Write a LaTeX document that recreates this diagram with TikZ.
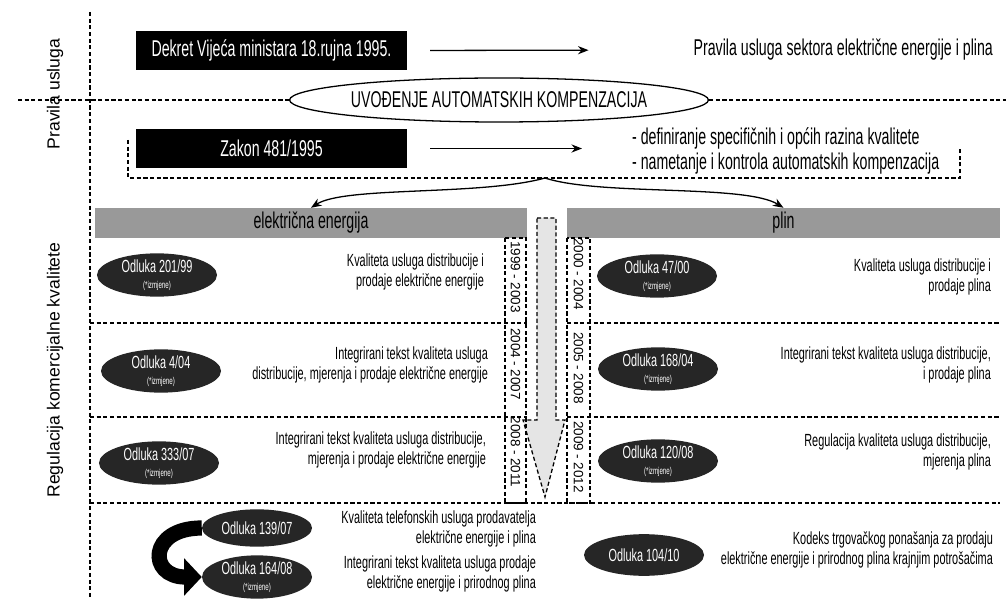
\documentclass[tikz,border=0pt]{standalone}
\usepackage{fontspec}
\setmainfont[FakeStretch=0.62]{Liberation Sans}
\newfontfamily\rotfont{Liberation Sans}
\usetikzlibrary{shapes.geometric, arrows.meta, positioning, calc}

\newcommand{\velik}{\fontsize{19.5}{21}\selectfont}
\newcommand{\mali}{\fontsize{15}{16.5}\selectfont}
\newcommand{\sitno}{\fontsize{8.5}{9}\selectfont}

\begin{document}
\begin{tikzpicture}[x=0.03cm, y=-0.03cm,
    crta/.style={dash pattern=on 3.5pt off 2.2pt, line width=1.1pt},
    crnibox/.style={fill=black, text=white, minimum width=8.13cm, minimum height=1.17cm, font=\velik},
    traka/.style={fill=black!40, minimum height=0.9cm, inner sep=0, font=\velik},
    odluka/.style={ellipse, fill=black!85, text=white, minimum width=3.6cm, minimum height=1.25cm, inner sep=0, align=center, font=\mali},
    opis/.style={anchor=east, align=right, font=\mali},
    godina/.style={rotate=-90, font=\rotfont\fontsize{11.5}{12}\selectfont},
    strelica/.style={-{Stealth[length=9pt,width=7pt]}, line width=1.1pt}]

    \useasboundingbox (0,0) rectangle (1006,599);

    % --- okvir i oznake lijevo ---
    \draw[crta] (90,12) -- (90,599);
    \node[rotate=90, font=\rotfont\fontsize{15}{17}\selectfont] (pravila) at (55,94) {Pravila usluga};
    \node[rotate=90, font=\rotfont\fontsize{15}{17}\selectfont] (regulacija) at (55,370) {Regulacija komercijalne kvalitete};

    % --- Pravila usluga (gore) ---
    \node[crnibox] (dekret) at (271.5,50.5) {Dekret Vije\'ca ministara 18.rujna 1995.};
    \node[anchor=east, font=\velik] (sektor) at (997,50) {Pravila usluga sektora elektri\v{c}ne energije i plina};
    \draw[strelica, shorten <=0.69cm, shorten >=3.03cm] (dekret.east) -- (sektor.west);

    \node[ellipse, draw, line width=1.1pt, minimum width=10.29cm, minimum height=1.32cm, inner sep=0, font=\velik] (uvod) at (499,100) {UVO\DJ ENJE AUTOMATSKIH KOMPENZACIJA};
    \draw[crta] (18,100) -- (uvod.west);
    \draw[crta] (uvod.east) -- (1006,100);

    \node[crnibox] (zakon) at (271.5,148.5) {Zakon 481/1995};
    \node[anchor=west, align=left, font=\velik] (ciljevi) at (628,151) {- definiranje specifi\v{c}nih i op\'cih razina kvalitete\\- nametanje i kontrola automatskih kompenzacija};
    \draw[strelica, shorten <=0.69cm, shorten >=1.38cm] (zakon.east) -- (zakon.east -| ciljevi.west);
    \draw[crta] (128,140) -- (128,178) -- (960,178) -- (960,147);
    \coordinate (split) at (545,178);

    % --- trake ---
    \node[traka, minimum width=12.96cm] (elbar) at (311,223) {elektri\v{c}na energija};
    \node[traka, minimum width=12.99cm] (plinbar) at (783.5,223) {plin};
    \draw[strelica] (split) .. controls (480,196) and (345,186) .. (elbar.north);
    \draw[strelica] (split) .. controls (600,196) and (745,184) .. (plinbar.north);

    % --- vremenska os ---
    \draw[crta, fill=black!10] (537,218) -- (556,218) -- (556,420) -- (565,420) -- (545,497) -- (523,420) -- (537,420) -- cycle;
    \draw[crta] (505,238) rectangle (526,503);
    \draw[crta] (567,238) rectangle (590,503);
    \node[godina] (g1) at (515.5,277) {1999 - 2003};
    \node[godina] (g2) at (515.5,364) {2004 - 2007};
    \node[godina] (g3) at (515.5,452) {2008 - 2011};
    \node[godina] (g4) at (578.5,274) {2000 - 2004};
    \node[godina] (g5) at (578.5,368) {2005 - 2008};
    \node[godina] (g6) at (578.5,457) {2009 - 2012};

    \draw[crta] (90,323) -- (527,323);
    \draw[crta] (567,323) -- (1000,323);
    \draw[crta] (90,417) -- (527,417);
    \draw[crta] (567,417) -- (1000,417);
    \draw[crta] (90,503) -- (1000,503);

    % --- elektricna energija ---
    \node[odluka] (o201) at (157,275) {Odluka 201/99\\[-3pt]{\sitno(*izmjene)}};
    \node[opis] (t201) at (488,272) {Kvaliteta usluga distribucije i\\prodaje elektri\v{c}ne energije};
    \node[odluka] (o404) at (161,371) {Odluka 4/04\\[-3pt]{\sitno(*izmjene)}};
    \node[opis] (t404) at (492,365) {Integrirani tekst kvaliteta usluga\\distribucije, mjerenja i prodaje elektri\v{c}ne energije};
    \node[odluka] (o333) at (159,463) {Odluka 333/07\\[-3pt]{\sitno(*izmjene)}};
    \node[opis] (t333) at (490,450) {Integrirani tekst kvaliteta usluga distribucije,\\mjerenja i prodaje elektri\v{c}ne energije};

    % --- plin ---
    \node[odluka] (o47) at (657,276) {Odluka 47/00\\[-3pt]{\sitno(*izmjene)}};
    \node[opis] (t47) at (995,277) {Kvaliteta usluga distribucije i\\prodaje plina};
    \node[odluka] (o168) at (658,369) {Odluka 168/04\\[-3pt]{\sitno(*izmjene)}};
    \node[opis] (t168) at (995,365) {Integrirani tekst kvaliteta usluga distribucije,\\i prodaje plina};
    \node[odluka] (o120) at (658,461) {Odluka 120/08\\[-3pt]{\sitno(*izmjene)}};
    \node[opis] (t120) at (995,452) {Regulacija kvaliteta usluga distribucije,\\mjerenja plina};

    % --- zajednicko (dolje) ---
    \node[odluka, minimum width=3.3cm, minimum height=1.12cm] (o139) at (257,528) {Odluka 139/07};
    \node[opis] (t139) at (540,529) {Kvaliteta telefonskih usluga prodavatelja\\elektri\v{c}ne energije i plina};
    \node[odluka, minimum width=3.3cm, minimum height=1.15cm] (o164) at (257,577) {Odluka 164/08\\[-3pt]{\sitno(*izmjene)}};
    \node[opis] (t164) at (540,574) {Integrirani tekst kvaliteta usluga prodaje\\elektri\v{c}ne energije i prirodnog plina};
    \draw[line width=13pt, -{Triangle[length=15pt,width=31pt]}] (o139.west) .. controls (148,528) and (148,577) .. (o164.west);
    \node[odluka] (o104) at (644,555) {Odluka 104/10};
    \node[opis] (t104) at (997,550) {Kodeks trgova\v{c}kog pona\v{s}anja za prodaju\\elektri\v{c}ne energije i prirodnog plina krajnjim potro\v{s}a\v{c}ima};
\end{tikzpicture}
\end{document}
